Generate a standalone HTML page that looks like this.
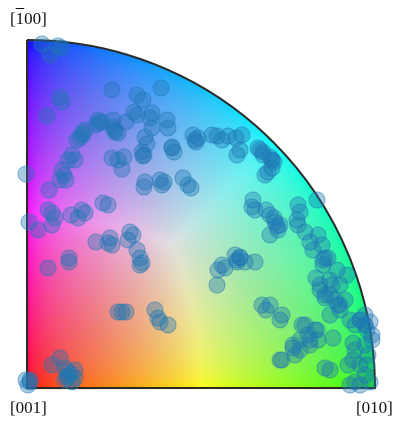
<!DOCTYPE html>
<html><head><meta charset="utf-8"><style>
html,body{margin:0;padding:0;background:#fff;width:402px;height:428px;overflow:hidden}
#wrap{position:relative;width:402px;height:428px}
canvas,svg{position:absolute;left:0;top:0}
.lbl{position:absolute;font-family:"Liberation Serif",serif;font-size:17px;color:#111}
</style></head><body>
<div id="wrap">
<canvas id="bg" width="402" height="428"></canvas>
<svg id="plot" width="402" height="428"></svg>
<div class="lbl" style="left:10px;top:9px">[<span style="text-decoration:overline">1</span>00]</div>
<div class="lbl" style="left:10px;top:398px">[001]</div>
<div class="lbl" style="left:356px;top:398px">[010]</div>
</div>
<script>
// data coordinates: 0..348 units along [010] (u) and [-100] (v)
const us=[15,31,23,35,85,110,116,134,35,33,20,107,110,125,123,140,141,71,75,69,88,91,86,55,53,58,50,125,118,145,147,117,115,97,91,85,45,41,48,95,-1,37,35,33,39,22,118,117,137,135,133,156,161,164,166,171,169,190,195,185,201,209,215,213,210,231,236,243,245,241,238,245,290,226,225,228,239,243,248,251,243,271,273,270,271,278,291,295,298,301,296,283,286,208,213,210,218,195,191,228,190,198,235,239,243,255,253,289,293,298,303,313,308,313,318,303,323,328,333,338,310,305,303,278,281,283,273,288,291,306,266,273,268,253,298,303,328,338,341,333,338,328,323,333,343,343,340,345,338,321,326,275,2,11,25,28,25,21,44,51,58,55,76,81,83,81,85,69,103,106,101,110,113,115,113,42,42,21,91,95,99,128,131,133,141,33,25,38,41,41,48,48,38,45,3,-1,1,
 233,236,245,247,116,145,56,86,99,293,298,313,333,345,283,290,266,255,3,40,44,168,88,72,120,210,213,247,250,253,296,320,338,326,340,311];
const vs=[344,342,333,340,298,293,288,300,286,291,272,276,273,275,270,268,260,268,266,263,258,255,261,255,250,258,248,260,251,241,236,233,236,231,228,230,233,228,228,219,214,213,218,208,208,198,206,201,206,203,208,210,203,200,253,250,246,252,248,253,252,250,253,238,233,240,236,231,228,216,213,220,188,188,181,178,178,173,166,158,153,183,176,168,163,156,153,143,130,130,123,146,138,133,130,126,126,123,118,126,103,120,83,78,83,73,68,110,98,90,108,103,88,78,88,73,68,63,68,73,118,103,93,63,53,43,48,58,48,50,43,38,33,28,20,18,38,43,33,23,13,6,3,3,6,66,58,48,63,23,28,63,166,158,175,170,163,178,173,170,175,178,185,183,150,145,143,146,156,153,148,138,130,125,123,130,126,120,76,76,76,78,70,66,63,30,23,20,16,10,18,10,8,6,6,8,3,
 238,233,228,226,232,240,253,268,266,103,93,83,68,53,48,58,40,28,8,12,14,248,256,265,244,128,131,170,162,163,128,113,63,45,23,83];
const R=348, ox=27, oy=388;
const xs=u=>ox+u*(R/348), ys=v=>oy-v*(R/348);

// background IPF color key
const c=document.getElementById('bg').getContext('2d');
const img=c.createImageData(402,428);
for(let y=0;y<428;y++)for(let x=0;x<402;x++){
 const dx=(x-ox)/R, dy=(oy-y)/R, r=Math.hypot(dx,dy);
 if(dx<0||dy<0||r>1)continue;
 const th=Math.atan2(dy,dx);
 let a=Math.pow(Math.max(0,1-r),0.5), g=Math.pow(r*Math.cos(th),0.5), b=Math.pow(r*Math.sin(th),0.5);
 const m=Math.max(a,g,b)||1; a/=m; g/=m; b/=m;
 const s=1-0.12*Math.min(a,g,b);
 const i=(y*402+x)*4;
 img.data[i]=255*a*s; img.data[i+1]=255*g*s; img.data[i+2]=255*b*s; img.data[i+3]=255;
}
c.putImageData(img,0,0);

const NS='http://www.w3.org/2000/svg', svg=document.getElementById('plot');
const border=document.createElementNS(NS,'path');
border.setAttribute('d',`M${ox},${oy-R} L${ox},${oy} L${ox+R},${oy} A${R},${R} 0 0 0 ${ox},${oy-R}`);
border.setAttribute('fill','none');border.setAttribute('stroke','#2a2a2a');border.setAttribute('stroke-width','2');


svg.appendChild(border);
for(let k=0;k<us.length;k++){
 const p=document.createElementNS(NS,'circle');
 p.setAttribute('cx',xs(us[k]));p.setAttribute('cy',ys(vs[k]));p.setAttribute('r',8);
 p.setAttribute('fill','rgba(31,119,180,0.38)');p.setAttribute('stroke','rgba(31,119,180,0.5)');p.setAttribute('stroke-width','1');
 
 
 svg.appendChild(p);
}
</script>
</body></html>
